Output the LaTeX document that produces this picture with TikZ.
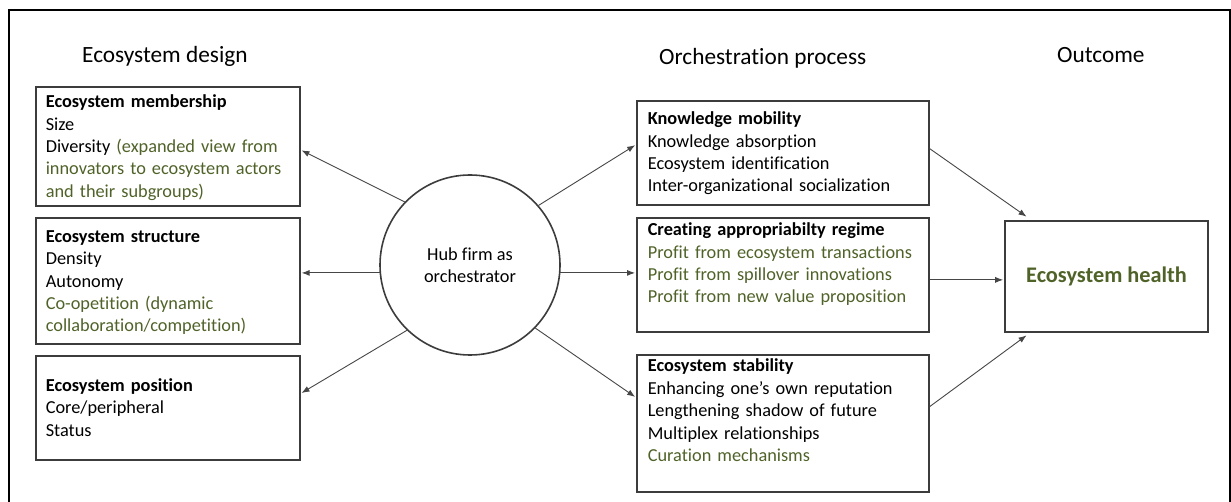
\documentclass[tikz,border=0pt]{standalone}
\usepackage{fontspec}
\setmainfont{Carlito}[Ligatures=NoCommon]
\usetikzlibrary{arrows.meta,calc}
\definecolor{grn}{RGB}{79,98,40}
\definecolor{boxc}{RGB}{60,60,60}
\definecolor{arrc}{RGB}{70,70,70}
\newcommand\bodyfont{\fontsize{18.3}{22.4}\selectfont}
\newcommand\g[1]{\textcolor{grn}{#1}}
\tikzset{
  box/.style={draw=boxc, line width=1.6pt, anchor=north west, inner xsep=10pt, inner ysep=0pt, align=left, font=\bodyfont},
  lbox/.style={box, text width=244pt},
  mbox/.style={box, inner xsep=11pt, text width=270pt},
  ttl/.style={anchor=base west, inner sep=0pt, font=\fontsize{23.3}{28}\selectfont},
  conn/.style={draw=arrc, line width=0.9pt, -{Latex[length=8pt,width=6pt]}, shorten >=1pt},
}
\begin{document}
\begin{tikzpicture}[x=1pt,y=-1pt]
\useasboundingbox (0,0) rectangle (1231,502);
\draw[line width=1.8pt] (9,506) -- (9,10) -- (1230,10) -- (1230,506);

% titles
\node[ttl] (t1) at (82,62.7) {Ecosystem design};
\node[ttl] (t2) at (659,65) {Orchestration process};
\node[ttl] (t3) at (1057,62.7) {Outcome};

% left boxes
\node[lbox, text height=21pt, text depth=98pt] (m1) at (35,86)
  {\textbf{Ecosystem membership}\\Size\\Diversity \g{(expanded view from}\\\g{innovators to ecosystem actors}\\\g{and their subgroups)}};
\node[lbox, text height=24.5pt, text depth=101.5pt] (m2) at (35,217)
  {\textbf{Ecosystem structure}\\Density\\Autonomy\\\g{Co-opetition (dynamic}\\\g{collaboration/competition)}};
\node[lbox, text height=35.7pt, text depth=68.3pt] (m3) at (35,355)
  {\textbf{Ecosystem position}\\Core/peripheral\\Status};

% hub
\node[draw=boxc, circle, line width=1.6pt, minimum size=180pt, inner sep=0pt, align=center, font=\bodyfont] (hub) at (470,265)
  {Hub firm as\\orchestrator};

% middle boxes
\node[mbox, text height=24pt, text depth=80pt] (pa) at (636,100)
  {\textbf{Knowledge mobility}\\Knowledge absorption\\Ecosystem identification\\Inter-organizational socialization};
\node[mbox, text height=18pt, text depth=96pt] (pb) at (636,217)
  {\textbf{Creating appropriabilty regime}\\\g{Profit from ecosystem transactions}\\\g{Profit from spillover innovations}\\\g{Profit from new value proposition}};
\node[mbox, text height=17pt, text depth=120pt] (pc) at (636,354)
  {\textbf{Ecosystem stability}\\Enhancing one’s own reputation\\Lengthening shadow of future\\Multiplex relationships\\\g{Curation mechanisms}};

% outcome
\node[draw=boxc, line width=1.6pt, minimum width=203pt, minimum height=111pt, inner sep=0pt,
      font=\bfseries\fontsize{22.3}{26}\selectfont, text=grn] (out) at (1106.5,276.5) {Ecosystem health};

% connectors from hub
\draw[conn] (hub.136) -- ($(m1.north east)!0.53!(m1.south east)$);
\draw[conn] (hub.185) -- (hub.185 -| m2.east);
\draw[conn] (hub.226) -- ($(m3.north east)!0.365!(m3.south east)$);
\draw[conn] (hub.41) -- ($(pa.north west)!0.423!(pa.south west)$);
\draw[conn] (hub.-5) -- (hub.-5 -| pb.west);
\draw[conn] (hub.-44) -- ($(pc.north west)!0.314!(pc.south west)$);

% connectors to outcome
\coordinate (oin) at ($(out.north west)!0.53!(out.south west)$);
\draw[conn] ($(pa.north east)!0.46!(pa.south east)$) -- ($(out.north west)!0.113!(out.north east)+(0,-3)$);
\draw[conn] (oin -| pb.east) -- (oin);
\draw[conn] ($(pc.north east)!0.38!(pc.south east)$) -- ($(out.south west)!0.113!(out.south east)+(0,2)$);
\end{tikzpicture}
\end{document}
